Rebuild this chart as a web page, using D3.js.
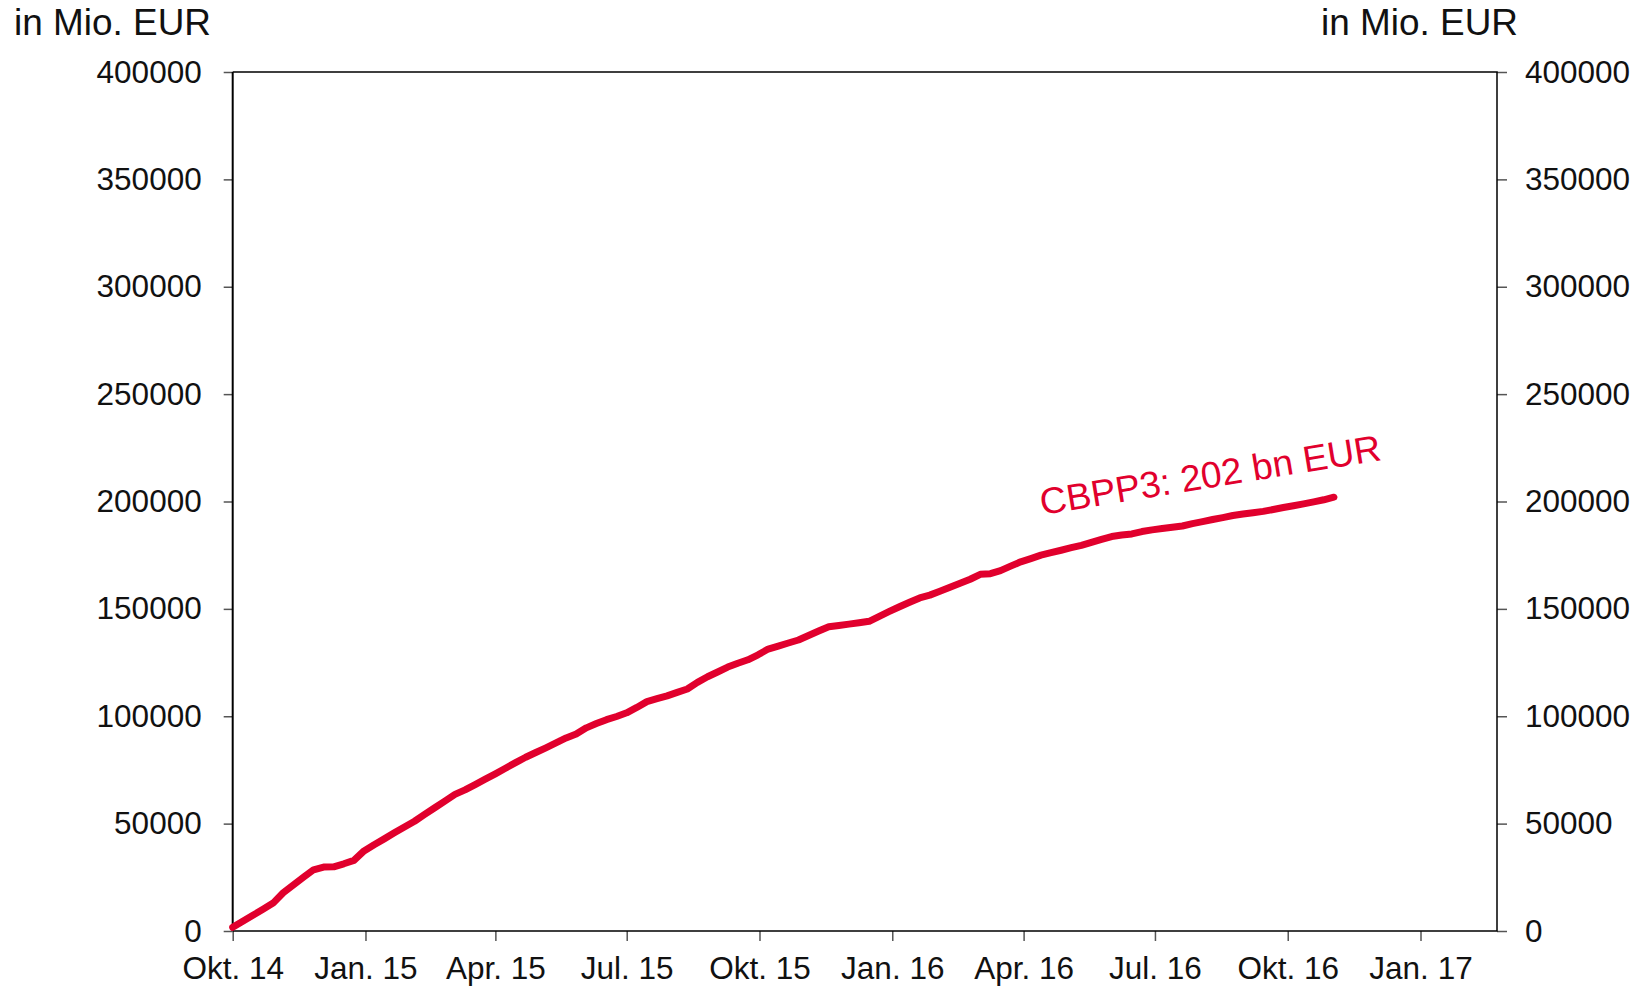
<!DOCTYPE html>
<html>
<head>
<meta charset="utf-8">
<script src="https://cdn.jsdelivr.net/npm/d3@7"></script>
<style>
  body { margin: 0; background: #fff; }
  svg { display: block; font-family: "Liberation Sans", Arial, sans-serif; }
</style>
</head>
<body>
<svg id="chart"></svg>
<script>
// CBPP3 holdings, weekly, in Mio. EUR
const firstWeek = new Date(2014, 9, 24);
const axisEnd = new Date(2017, 2, 18);

const holdings = [
  1700, 4500, 7300, 10100, 13000, 17800, 21400, 25000, 28500, 29800,
  29900, 31300, 32900, 37300, 40200, 42900, 45700, 48400, 51100, 54300,
  57400, 60500, 63600, 65700, 68200, 70700, 73200, 75800, 78400, 80900,
  83100, 85300, 87600, 89900, 91700, 94600, 96600, 98400, 99900, 101600,
  104100, 106800, 108200, 109500, 111100, 112700, 115800, 118400, 120600, 122900,
  124700, 126300, 128600, 131300, 132700, 134100, 135500, 137600, 139700, 141700,
  142300, 142900, 143500, 144200, 146500, 148800, 151000, 153100, 155100, 156400,
  158200, 160100, 161900, 163800, 166100, 166400, 167800, 169900, 171900, 173400,
  175000, 176200, 177300, 178500, 179600, 181000, 182400, 183700, 184400, 184900,
  186000, 186800, 187400, 188000, 188600, 189700, 190600, 191600, 192500, 193500,
  194200, 194800, 195400, 196300, 197200, 198000, 198900, 199800, 200800, 202000
];

const weeks = holdings.map((d, i) => d3.timeDay.offset(firstWeek, 7 * i));

const xTickLabels = ['Okt. 14', 'Jan. 15', 'Apr. 15', 'Jul. 15', 'Okt. 15',
  'Jan. 16', 'Apr. 16', 'Jul. 16', 'Okt. 16', 'Jan. 17'];
const yTicks = [0, 50000, 100000, 150000, 200000, 250000, 300000, 350000, 400000];
const unitLabel = 'in Mio. EUR';
const annotation = 'CBPP3: 202 bn EUR';

const width = 1648, height = 988;
const margin = {top: 72, right: 151, bottom: 57, left: 232.7};
const red = '#e1002d';

const svg = d3.select('#chart')
  .attr('width', width)
  .attr('height', height)
  .attr('viewBox', `0 0 ${width} ${height}`);

const x = d3.scaleTime()
  .domain([firstWeek, axisEnd])
  .range([margin.left, width - margin.right]);

const y = d3.scaleLinear()
  .domain([0, 400000])
  .range([height - margin.bottom, margin.top]);

const xTicks = xTickLabels.map((d, i) => d3.timeMonth.offset(firstWeek, 3 * i));

const styleAxis = g => {
  g.select('.domain').remove();
  g.selectAll('.tick line').attr('stroke', '#555').attr('stroke-width', 1.5);
  g.selectAll('.tick text').attr('fill', '#111').attr('font-size', 31.5);
};

svg.append('g')
  .attr('transform', `translate(${margin.left},0)`)
  .call(d3.axisLeft(y).tickValues(yTicks).tickFormat(d => d).tickSize(9).tickPadding(22))
  .call(styleAxis);

svg.append('g')
  .attr('transform', `translate(${width - margin.right},0)`)
  .call(d3.axisRight(y).tickValues(yTicks).tickFormat(d => d).tickSize(10).tickPadding(18))
  .call(styleAxis);

svg.append('g')
  .attr('transform', `translate(0,${height - margin.bottom})`)
  .call(d3.axisBottom(x).tickValues(xTicks).tickFormat((d, i) => xTickLabels[i]).tickSize(10).tickPadding(16))
  .call(styleAxis);

// plot frame
const x0 = x.range()[0], x1 = x.range()[1];
const y0 = y.range()[0], y1 = y.range()[1];
svg.append('path')
  .attr('fill', 'none')
  .attr('stroke', '#000')
  .attr('stroke-width', 1.5)
  .attr('d', `M${x0},${y1}H${x1}V${y0}H${x0}`);
svg.append('line')
  .attr('x1', x0).attr('x2', x0)
  .attr('y1', y1).attr('y2', y0)
  .attr('stroke', '#000')
  .attr('stroke-width', 2);

const line = d3.line()
  .x((d, i) => x(weeks[i]))
  .y(d => y(d));

svg.append('path')
  .datum(holdings)
  .attr('fill', 'none')
  .attr('stroke', red)
  .attr('stroke-width', 7)
  .attr('stroke-linejoin', 'round')
  .attr('stroke-linecap', 'round')
  .attr('d', line);

// unit labels
svg.append('text')
  .attr('x', 14).attr('y', 35)
  .attr('font-size', 36)
  .attr('fill', '#111')
  .attr('textLength', 197)
  .attr('lengthAdjust', 'spacingAndGlyphs')
  .text(unitLabel);

svg.append('text')
  .attr('x', 1321).attr('y', 35)
  .attr('font-size', 36)
  .attr('fill', '#111')
  .attr('textLength', 197)
  .attr('lengthAdjust', 'spacingAndGlyphs')
  .text(unitLabel);

svg.append('text')
  .attr('transform', 'translate(1042,515) rotate(-9.2)')
  .attr('font-size', 37)
  .attr('fill', red)
  .attr('textLength', 345)
  .attr('lengthAdjust', 'spacingAndGlyphs')
  .text(annotation);
</script>
</body>
</html>
